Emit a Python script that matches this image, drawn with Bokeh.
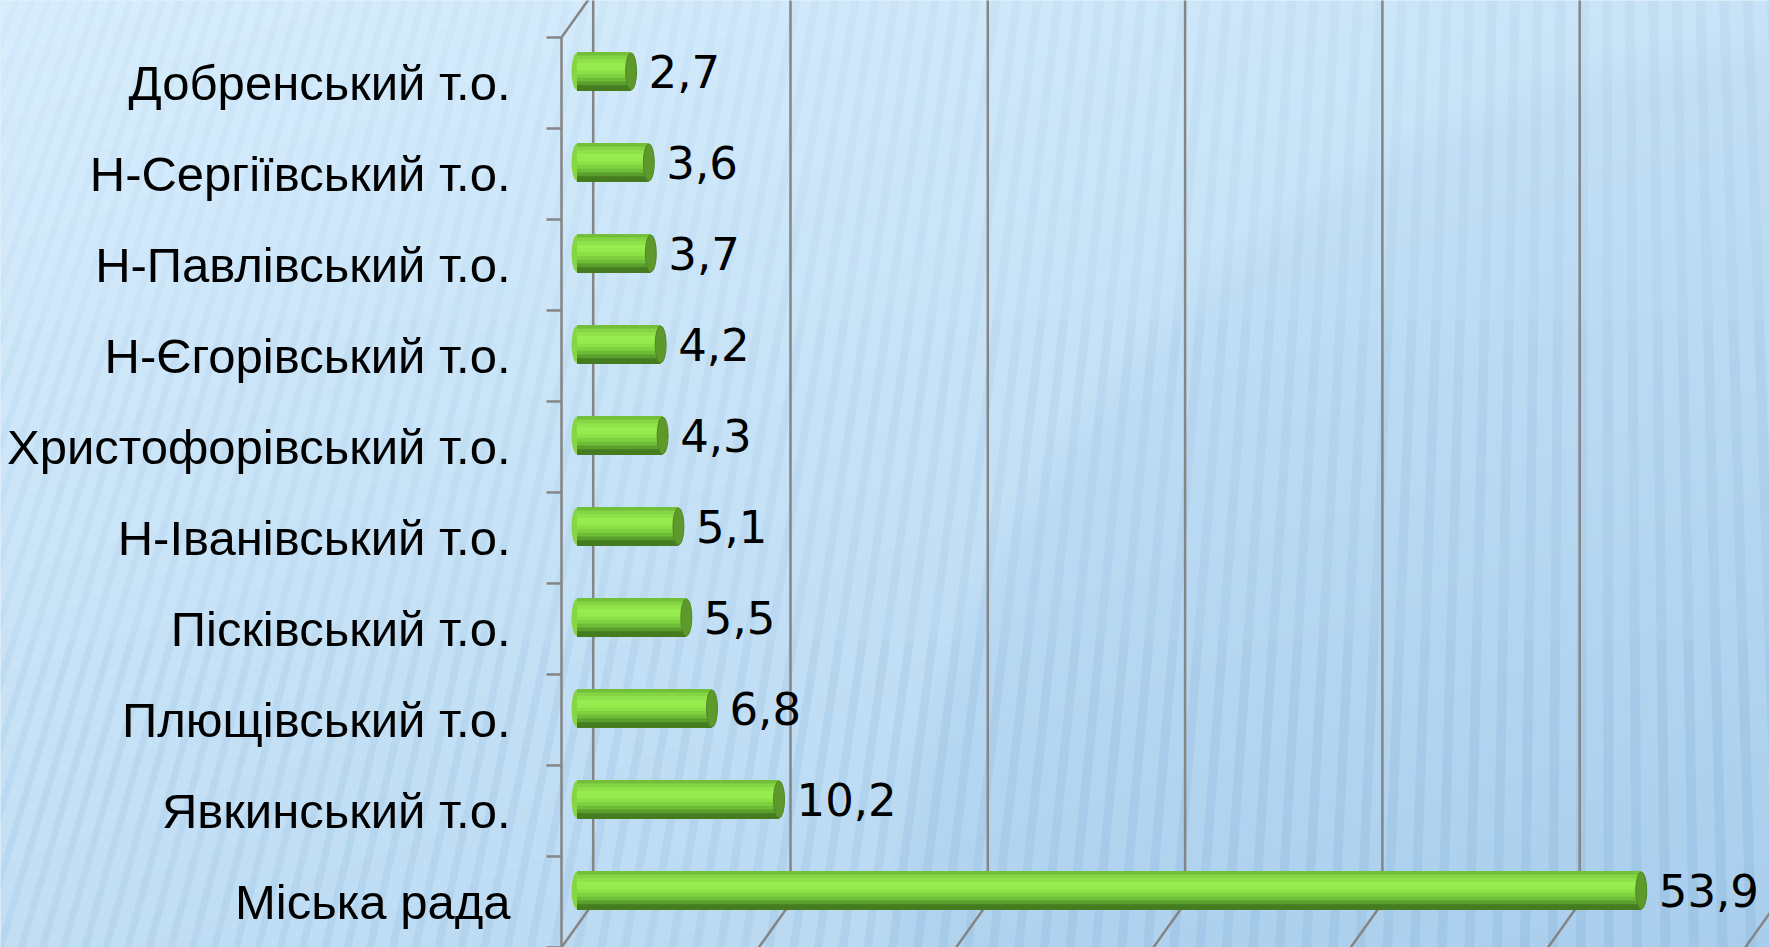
import numpy as np
from bokeh.plotting import figure
from bokeh.models import Range1d, ColumnDataSource
from bokeh.core.properties import value
from bokeh.embed import file_html
from bokeh.resources import INLINE

# ---------------- data ----------------
categories = ["Міська рада", "Явкинський т.о.", "Плющівський т.о.", "Пісківський т.о.",
              "Н-Іванівський т.о.", "Христофорівський т.о.", "Н-Єгорівський т.о.",
              "Н-Павлівський т.о.", "Н-Сергіївський т.о.", "Добренський т.о."]
values = [53.9, 10.2, 6.8, 5.5, 5.1, 4.3, 4.2, 3.7, 3.6, 2.7]
grid_ticks = [0, 10, 20, 30, 40, 50, 60]
value_labels = [f"{v:.1f}".replace(".", ",") for v in values]

# ---------------- layout / style constants ----------------
W, H = 1769, 947
PX_PER_UNIT = 19.73
X0_REF = 582.8          # pixel of value 0 (bar plane)
Y0_REF = 890.0          # pixel of first bar center
ROW_PX = 91.0

def xr(px):  # pixel -> data x
    return (px - X0_REF) / PX_PER_UNIT

def yr(py):  # pixel (top-down) -> data y
    return (Y0_REF - py) / ROW_PX

x_start, x_end = xr(0), xr(W)
y_start, y_end = yr(H), yr(0)

BACK_DX = xr(592.7)
FRONT_DX = xr(561.0)
BACK_DY = 0.5 - 0.363
FRONT_DY = 0.5 + 0.126
TICK_X0 = xr(546.0)
BAR_LEFT = xr(571.0)
BAR_H = 37.0 / ROW_PX
CAP_W = 11.0 / PX_PER_UNIT
LABEL_OFF = 12.0 / PX_PER_UNIT
CAT_X = xr(510.0)
CAT_DY = -0.125

p = figure(width=W, height=H, x_range=Range1d(x_start, x_end), y_range=Range1d(y_start, y_end),
           output_backend="svg", toolbar_location=None, min_border=0,
           x_axis_location=None, y_axis_location=None)
p.grid.visible = False
p.outline_line_color = None
p.background_fill_color = "#c8e3f8"
p.border_fill_color = "#c8e3f8"

# ---------------- background gradient ----------------
gw, gh = 590, 316
cols = (np.arange(gw) + 0.5) * W / gw
rows = (np.arange(gh) + 0.5) * H / gh
X, Y = np.meshgrid(cols, rows)
t = np.clip(0.30 * X / 1769 + 0.45 * Y / 947, 0, 1)
light = np.array([216, 238, 253], float)
dark = np.array([166, 204, 235], float)
d = np.hypot(X - 1850, Y - 1000)
inside = np.clip((960 - d) / 40 + 0.5, 0, 1)
t = np.clip(t + 0.18 * inside * (0.6 + 0.4 * Y / 947), 0, 1)
rgb = light[None, None, :] * (1 - t[..., None]) + dark[None, None, :] * t[..., None]
img = np.empty((gh, gw), dtype=np.uint32)
view = img.view(dtype=np.uint8).reshape((gh, gw, 4))
view[..., :3] = np.clip(rgb, 0, 255).astype(np.uint8)
view[..., 3] = 255
img = img[::-1]
p.image_rgba(image=[img], x=x_start, y=y_start, dw=x_end - x_start, dh=y_end - y_start)

# ---------------- background stripes (vector) ----------------
sx, sy, sa = [], [], []
segs = [(0, 320, 0.05), (320, 640, 0.08), (640, 947, 0.11)]
c = -420.0
while c < W + 40:
    k = 0.36 - 0.40 * max(c, 0) / 1769
    per = 16 + 8 * max(c, 0) / 1769
    w = 0.42 * per
    for (ya, yb, a) in segs:
        xa, xb = c - k * ya, c - k * yb
        sx.append([xr(xa), xr(xa + w), xr(xb + w), xr(xb)])
        sy.append([yr(ya), yr(ya), yr(yb), yr(yb)])
        sa.append(a * (0.8 + 0.5 * max(c, 0) / 1769))
    c += per
p.patches(xs=sx, ys=sy, fill_color="#5f93c4", fill_alpha=sa, line_color=None)

# ---------------- 3D frame ----------------
n = len(categories)
LINE = "#858585"
y_back_top, y_back_bot = n - BACK_DY, -BACK_DY
y_front_top, y_front_bot = n - FRONT_DY, -FRONT_DY

gx = [t_ + BACK_DX for t_ in grid_ticks]
xs, ys = [], []
for g in gx[1:]:
    xs.append([g, g, g + (FRONT_DX - BACK_DX)])
    ys.append([y_back_top, y_back_bot, y_front_bot])
p.multi_line(xs=xs, ys=ys, line_color=LINE, line_width=2.5)
p.multi_line(xs=[[gx[0], gx[0]], [FRONT_DX, FRONT_DX], [FRONT_DX, gx[0]], [FRONT_DX, gx[0]]],
             ys=[[y_back_top, y_back_bot], [y_front_top, y_front_bot],
                 [y_front_top, y_back_top], [y_front_bot, y_back_bot]],
             line_color=LINE, line_width=2.5)
tick_y = [j + 1 - FRONT_DY for j in range(-1, n)]
p.segment(x0=[TICK_X0] * len(tick_y), y0=tick_y, x1=[FRONT_DX] * len(tick_y), y1=tick_y,
          line_color=LINE, line_width=2.5)

# ---------------- cylinders ----------------
yj = list(range(n))
src = ColumnDataSource(dict(y=yj, v=values, right=[v - CAP_W / 2 for v in values],
                            cap_x=[v - CAP_W / 2 for v in values],
                            lab_x=[v + LABEL_OFF for v in values], lab=value_labels,
                            cat=categories))
strip_colors = ["#72bf3a", "#84d543", "#8fe24a", "#97ec4f", "#95ea4d",
                "#8be046", "#7fd140", "#6dbd36", "#5a9f2c", "#457c20"]
ns = len(strip_colors)
sh = BAR_H / ns
p.ellipse(x=BAR_LEFT + CAP_W / 2, y="y", width=CAP_W, height=BAR_H, source=src,
          fill_color="#86d644", line_color=None)
for i, col in enumerate(strip_colors):
    off = BAR_H / 2 - sh * (i + 0.5)
    p.hbar(y=[y + off for y in yj], left=BAR_LEFT + CAP_W / 2, right=src.data["right"],
           height=sh * 1.6, fill_color=col, line_color=None)
p.ellipse(x="cap_x", y="y", width=CAP_W, height=BAR_H, source=src,
          fill_color="#5e9a2b", line_color="#4f8824", line_width=1)

# ---------------- labels ----------------
p.text(x="lab_x", y="y", text="lab", source=src, text_font=value("DejaVu Sans"),
       text_font_size="45px", text_color="#000000", text_baseline="middle", text_align="left")
p.text(x=CAT_X, y=[y + CAT_DY for y in yj], text=categories, text_font=value("Liberation Sans"),
       text_font_size="49px", text_color="#000000", text_baseline="middle", text_align="right")

open("out.html", "w").write(file_html(p, INLINE))
